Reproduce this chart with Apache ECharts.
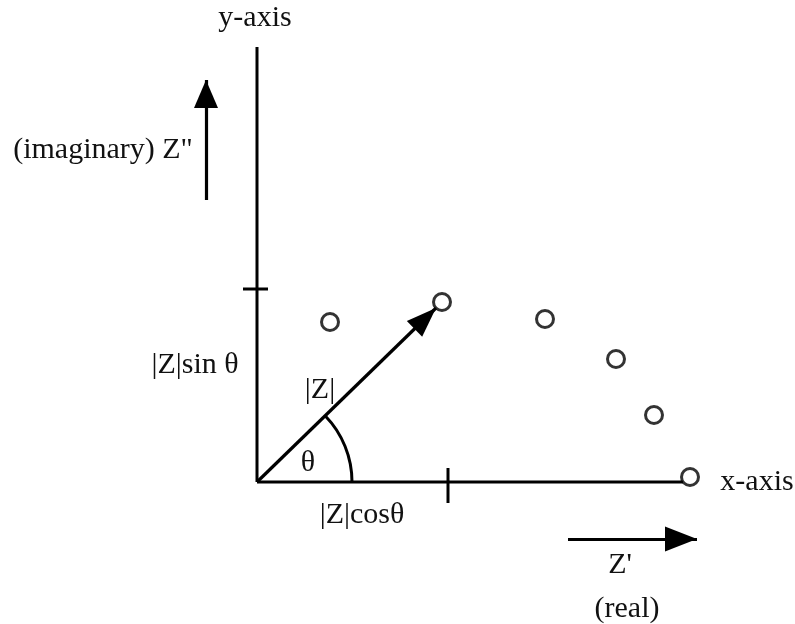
<!DOCTYPE html>
<html>
<head>
<meta charset="utf-8">
<script src="https://cdn.jsdelivr.net/npm/echarts@6/dist/echarts.min.js"></script>
<style>
  html, body { margin: 0; padding: 0; background: #fff; }
  #nyquist { width: 795px; height: 624px; }
</style>
</head>
<body>
<div id="nyquist"></div>
<script>
// impedance points (Z', Z'')
var zReal = [7.3, 18.5, 28.8, 35.9, 39.7, 43.3];
var zImag = [16.0, 18.0, 16.3, 12.3, 6.7, 0.5];

// axes and tick marks
var xAxisLine = [[0, 0], [42.6, 0]];
var yAxisLine = [[0, 0], [0, 43.5]];
var yTick = [[-1.4, 19.3], [1.1, 19.3]];
var xTick = [[19.1, 1.4], [19.1, -2.1]];

// arrows (tail, tip): |Z| vector, imaginary direction, real direction
var vecZ = [[0, 0], [17.9, 17.4]];
var arrowImag = [[-5.1, 28.2], [-5.1, 40.2]];
var arrowReal = [[31.1, -5.7], [44.0, -5.7]];

var arcRadius = 9.5;

var ink = '#000';
var font = '30px "Liberation Serif", "DejaVu Serif", serif';

var points = zReal.map(function (x, i) { return [x, zImag[i]]; });

function lineSeries(data) {
  return {
    type: 'line',
    data: data,
    symbol: 'none',
    silent: true,
    clip: false,
    lineStyle: { color: ink, width: 3 },
    z: 2
  };
}

// w = base width, h = head length; offset so the tip sits on the end point
function arrow(seg, w, h) {
  return {
    type: 'line',
    data: [],
    silent: true,
    markLine: {
      silent: true,
      animation: false,
      symbol: ['none', 'triangle'],
      symbolSize: [w, h],
      symbolOffset: [[0, 0], [0, h / 2]],
      label: { show: false },
      emphasis: { disabled: true },
      lineStyle: { color: ink, width: 3.2, type: 'solid' },
      data: [[{ coord: seg[0] }, { coord: seg[1] }]]
    }
  };
}

var chart = echarts.init(document.getElementById('nyquist'));
chart.setOption({
  animation: false,
  backgroundColor: '#fff',
  grid: { left: 0, top: 0, width: 795, height: 624 },
  xAxis: { type: 'value', min: -25.7, max: 53.8, show: false },
  yAxis: { type: 'value', min: -14.2, max: 48.2, show: false },
  series: [
    lineSeries(xAxisLine),
    lineSeries(yAxisLine),
    lineSeries(yTick),
    lineSeries(xTick),
    arrow(vecZ, 22, 30),
    arrow(arrowImag, 24, 28),
    arrow(arrowReal, 25, 32),
    {
      type: 'scatter',
      data: points,
      symbol: 'circle',
      symbolSize: 17,
      clip: false,
      silent: true,
      itemStyle: { color: '#fff', borderColor: ink, borderWidth: 3 },
      z: 5
    }
  ]
});

function px(p) { return chart.convertToPixel({ gridIndex: 0 }, p); }

var labels = [
  ['y-axis', [-0.2, 46.4]],
  ['(imaginary) Z"', [-15.4, 33.2]],
  ['|Z|sin \u03b8', [-6.2, 11.7]],
  ['|Z|', [6.3, 9.2]],
  ['\u03b8', [5.1, 1.9]],
  ['|Z|cos\u03b8', [10.5, -3.3]],
  ['x-axis', [50.0, 0]],
  ["Z'", [36.3, -8.3]],
  ['(real)', [37.0, -12.7]]
];

var o = px([0, 0]);
var r = px([arcRadius, 0])[0] - o[0];
var ang = Math.atan2(vecZ[1][1] - vecZ[0][1], vecZ[1][0] - vecZ[0][0]);

var graphics = labels.map(function (l) {
  var p = px(l[1]);
  return {
    type: 'text',
    x: p[0],
    y: p[1],
    silent: true,
    style: { text: l[0], font: font, fill: '#111', align: 'center', verticalAlign: 'middle' }
  };
});
graphics.push({
  type: 'arc',
  silent: true,
  shape: { cx: o[0], cy: o[1], r: r, startAngle: -ang, endAngle: 0, clockwise: true },
  style: { stroke: ink, lineWidth: 3, fill: null }
});

chart.setOption({ graphic: graphics });
</script>
</body>
</html>
